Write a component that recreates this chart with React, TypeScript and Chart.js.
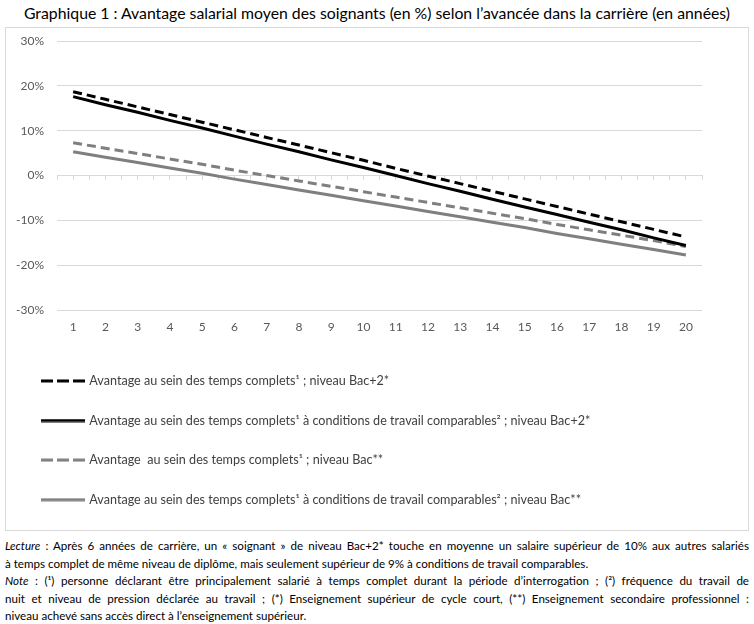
import React, { useEffect, useRef } from "react";
import { Chart, registerables } from "chart.js";

Chart.register(...registerables);

const years = ["1", "2", "3", "4", "5", "6", "7", "8", "9", "10", "11", "12", "13", "14", "15", "16", "17", "18", "19", "20"];

const bac2Full = [18.7, 17.0, 15.3, 13.6, 11.9, 10.2, 8.5, 6.8, 5.1, 3.4, 1.6, -0.1, -1.8, -3.5, -5.2, -6.9, -8.6, -10.3, -12.0, -13.7];
const bac2Comparable = [17.6, 15.8, 14.1, 12.3, 10.6, 8.8, 7.0, 5.3, 3.5, 1.8, 0.0, -1.8, -3.5, -5.3, -7.0, -8.7, -10.4, -12.1, -13.9, -15.6];
const bacFull = [7.3, 6.1, 4.9, 3.7, 2.5, 1.2, 0.0, -1.2, -2.4, -3.6, -4.8, -6.0, -7.2, -8.4, -9.6, -10.9, -12.1, -13.3, -14.5, -15.8];
const bacComparable = [5.3, 4.1, 2.9, 1.7, 0.5, -0.8, -2.0, -3.2, -4.4, -5.6, -6.8, -8.0, -9.2, -10.4, -11.6, -12.9, -14.1, -15.3, -16.5, -17.7];

const seriesLabels = [
  "Avantage au sein des temps complets\u00b9 ; niveau Bac+2*",
  "Avantage au sein des temps complets\u00b9 \u00e0 conditions de travail comparables\u00b2 ; niveau Bac+2*",
  "Avantage  au sein des temps complets\u00b9 ; niveau Bac**",
  "Avantage au sein des temps complets\u00b9 \u00e0 conditions de travail comparables\u00b2 ; niveau Bac**",
];

const yMin = -30;
const yMax = 30;
const yStep = 10;

const title = "Graphique 1 : Avantage salarial moyen des soignants (en %) selon l\u2019avanc\u00e9e dans la carri\u00e8re (en ann\u00e9es)";

const noteLine1 = " : Apr\u00e8s 6 ann\u00e9es de carri\u00e8re, un \u00ab soignant \u00bb de niveau Bac+2* touche en moyenne un salaire sup\u00e9rieur de 10% aux autres salari\u00e9s";
const noteLine2 = "\u00e0 temps complet de m\u00eame niveau de dipl\u00f4me, mais seulement sup\u00e9rieur de 9% \u00e0 conditions de travail comparables.";
const noteLine3 = " : (\u00b9) personne d\u00e9clarant \u00eatre principalement salari\u00e9 \u00e0 temps complet durant la p\u00e9riode d\u2019interrogation ; (\u00b2) fr\u00e9quence du travail de";
const noteLine4 = "nuit et niveau de pression d\u00e9clar\u00e9e au travail ; (*) Enseignement sup\u00e9rieur de cycle court, (**) Enseignement secondaire professionnel :";
const noteLine5 = "niveau achev\u00e9 sans acc\u00e8s direct \u00e0 l\u2019enseignement sup\u00e9rieur.";

const FONT = "Lato, 'Noto Sans', sans-serif";

function legendSwatch(color: string, dashed: boolean): HTMLCanvasElement {
  const c = document.createElement("canvas");
  c.width = 44;
  c.height = 4;
  const ctx = c.getContext("2d");
  if (ctx) {
    ctx.strokeStyle = color;
    ctx.lineWidth = 3;
    ctx.setLineDash(dashed ? [12, 4] : []);
    ctx.beginPath();
    ctx.moveTo(0, 2);
    ctx.lineTo(44, 2);
    ctx.stroke();
  }
  return c;
}

function ChartBox() {
  const ref = useRef<HTMLCanvasElement | null>(null);
  useEffect(() => {
    if (!ref.current) return;
    const black = "#000000";
    const gray = "#7f7f7f";
    const swatches = [legendSwatch(black, true), legendSwatch(black, false), legendSwatch(gray, true), legendSwatch(gray, false)];
    const chart = new Chart(ref.current, {
      type: "line",
      data: {
        labels: years,
        datasets: [
          { label: seriesLabels[0], data: bac2Full, borderColor: black, backgroundColor: black, borderWidth: 3, borderDash: [9, 5], pointRadius: 0, fill: false, tension: 0 },
          { label: seriesLabels[1], data: bac2Comparable, borderColor: black, backgroundColor: black, borderWidth: 3, pointRadius: 0, fill: false, tension: 0 },
          { label: seriesLabels[2], data: bacFull, borderColor: gray, backgroundColor: gray, borderWidth: 3, borderDash: [9, 5], pointRadius: 0, fill: false, tension: 0 },
          { label: seriesLabels[3], data: bacComparable, borderColor: gray, backgroundColor: gray, borderWidth: 3, pointRadius: 0, fill: false, tension: 0 },
        ],
      },
      options: {
        animation: false,
        responsive: false,
        maintainAspectRatio: false,
        events: [],
        layout: { padding: { left: 10, top: 13, right: 46, bottom: 14 } },
        scales: {
          x: {
            type: "category",
            offset: true,
            grid: { display: false, drawTicks: false },
            border: { display: false },
            ticks: { color: "#595959", font: { family: FONT, size: 12 }, padding: 10, maxRotation: 0, autoSkip: false },
            afterFit: (s: any) => { s.height = 37.5; },
          },
          xTicks: {
            type: "linear",
            axis: "x",
            position: { y: 0 },
            min: 0.5,
            max: 20.5,
            ticks: { display: false, stepSize: 0.5 },
            grid: { drawOnChartArea: false, drawTicks: true, tickLength: 4, color: "#d9d9d9", lineWidth: 1 },
            border: { display: true, color: "#d9d9d9", width: 1 },
          },
          y: {
            min: yMin,
            max: yMax,
            ticks: { stepSize: yStep, color: "#595959", font: { family: FONT, size: 12 }, padding: 3, callback: (v: any) => v + "%" },
            grid: { color: "#d9d9d9", drawTicks: true, tickLength: 10, tickColor: "rgba(0,0,0,0)", lineWidth: 1 },
            border: { display: false },
            afterFit: (s: any) => { s.width = 41; },
          },
        },
        plugins: {
          legend: {
            position: "bottom",
            align: "start",
            labels: {
              usePointStyle: true,
              pointStyleWidth: 40,
              padding: 27,
              color: "#404040",
              font: { family: FONT, size: 12.6 },
              generateLabels: (ch: any) => {
                const items = Chart.defaults.plugins.legend.labels.generateLabels(ch);
                return items.map((it: any, i: number) => ({ ...it, pointStyle: swatches[i] }));
              },
            },
          },
          tooltip: { enabled: false },
          title: { display: false },
        },
      } as any,
    });
    return () => chart.destroy();
  }, []);
  return <canvas ref={ref} width={742} height={502} style={{ display: "block", width: 742, height: 502 }} />;
}

const lineStyle: React.CSSProperties = { whiteSpace: "nowrap", overflow: "hidden", height: 17.5 };

export default function App() {
  return (
    <div style={{ position: "absolute", left: 0, top: 0, width: 754, height: 624, background: "#ffffff", fontFamily: FONT, color: "#000" }}>
      <div style={{ position: "absolute", left: 0, top: 3, width: 754, textAlign: "center", fontSize: 15.8, color: "#000" }}>{title}</div>
      <div style={{ position: "absolute", left: 5, top: 27, width: 742, height: 502, border: "1px solid #d9d9d9" }}>
        <ChartBox />
      </div>
      <div style={{ position: "absolute", left: 5, top: 537, width: 744, fontSize: 11.6, lineHeight: "17.5px" }}>
        <div style={{ ...lineStyle, textAlign: "justify", textAlignLast: "justify" }}>
          <i>Lecture</i>{noteLine1}
        </div>
        <div style={{ ...lineStyle, textAlign: "left" }}>{noteLine2}</div>
        <div style={{ ...lineStyle, textAlign: "justify", textAlignLast: "justify" }}>
          <i>Note</i>{noteLine3}
        </div>
        <div style={{ ...lineStyle, textAlign: "justify", textAlignLast: "justify" }}>{noteLine4}</div>
        <div style={{ ...lineStyle, textAlign: "left" }}>{noteLine5}</div>
      </div>
    </div>
  );
}
